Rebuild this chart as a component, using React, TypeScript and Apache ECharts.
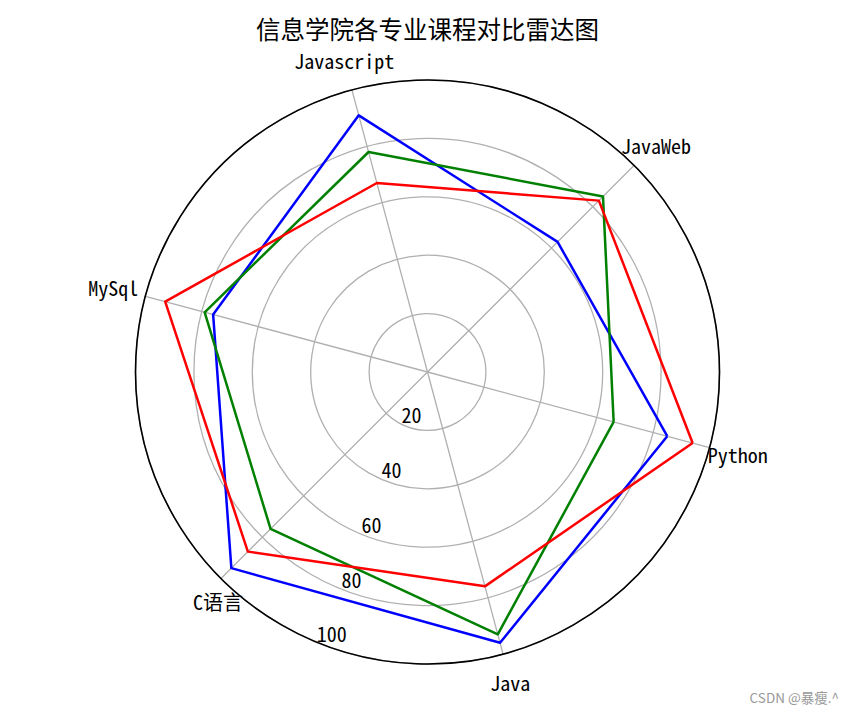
import { useEffect, useRef } from 'react';
import * as echarts from 'echarts';

// courses, counter-clockwise from the first spoke
const courses = ['Python', 'JavaWeb', 'Javascript', 'MySql', 'C语言', 'Java'];
const blueScores = [85, 63, 91, 76, 95, 96];
const greenScores = [66, 85, 78, 79, 76, 93];
const redScores = [94, 83, 67, 93, 87, 76];
const radialTicks = [20, 40, 60, 80, 100];

const CX = 427.5;
const CY = 372;
const R = 292;
const mono = '"Noto Sans Mono CJK SC", "Noto Sans CJK SC", "DejaVu Sans Mono", monospace';
const cjk = '"Noto Sans CJK SC", sans-serif';

// nudges [top, right, bottom, left] so each course name sits centred on its spoke
const namePads = [
  [31, 0, 0, 31],
  [0, 0, 34, 11],
  [0, 33, 52, 0],
  [0, 40, 36, 0],
  [37, 2, 0, 0],
  [51, 0, 0, 32],
];

const labelFont = { fontSize: 20, fontFamily: mono, color: '#000' };

export default function App(): JSX.Element {
  const chartRef = useRef<HTMLDivElement>(null);

  useEffect(() => {
    const myChart = echarts.init(chartRef.current, null, { renderer: 'svg' });
    const option = {
      animation: false,
      backgroundColor: '#fff',
      title: [
        {
          text: '信息学院各专业课程对比雷达图',
          left: 'center',
          top: 11,
          textStyle: { fontSize: 24.5, fontWeight: 'normal', color: '#000', fontFamily: cjk },
        },
        {
          text: 'CSDN @暴瘦.^',
          right: 11,
          bottom: 5,
          textStyle: { fontSize: 13.5, fontWeight: 'normal', color: '#999', fontFamily: cjk },
        },
      ],
      polar: [
        { center: [CX, CY], radius: R },
        { center: [CX, CY], radius: R },
      ],
      angleAxis: [
        {
          polarIndex: 0,
          type: 'value',
          min: 0,
          max: 360,
          startAngle: 250,
          clockwise: false,
          z: 5,
          axisLine: { show: true, lineStyle: { color: '#000', width: 1.6 } },
          axisTick: { show: false },
          axisLabel: { show: false },
          splitLine: { show: false },
        },
        {
          polarIndex: 1,
          type: 'category',
          boundaryGap: false,
          startAngle: -15,
          clockwise: false,
          data: courses.map((c, i) => ({ value: c, textStyle: { padding: namePads[i] } })),
          axisLine: { show: false },
          axisTick: { show: false },
          splitLine: { show: false },
          axisLabel: {
            margin: -34,
            ...labelFont,
            formatter: (v: string) => `{n|${v}}`,
            rich: { n: { ...labelFont } },
          },
        },
      ],
      radiusAxis: [
        {
          polarIndex: 0,
          type: 'value',
          min: 0,
          max: radialTicks[radialTicks.length - 1],
          interval: radialTicks[1] - radialTicks[0],
          axisLine: { show: false },
          axisTick: { show: false },
          splitLine: { show: false },
          axisLabel: {
            margin: 0,
            align: 'center',
            verticalAlign: 'middle',
            padding: [0, 0, 25, 8],
            ...labelFont,
            formatter: (v: number) => (radialTicks.includes(v) ? `{t|${v}}` : ''),
            rich: { t: { ...labelFont } },
          },
        },
        {
          polarIndex: 1,
          type: 'value',
          min: 0,
          max: 100,
          axisLine: { show: false },
          axisTick: { show: false },
          splitLine: { show: false },
          axisLabel: { show: false },
        },
      ],
      radar: {
        center: [CX, CY],
        radius: R,
        startAngle: -15,
        shape: 'circle',
        splitNumber: 5,
        indicator: courses.map((name) => ({ name, min: 0, max: 100 })),
        axisName: { show: false },
        axisLine: { lineStyle: { color: '#b0b0b0', width: 1.3 } },
        splitLine: { lineStyle: { color: '#b0b0b0', width: 1.3 } },
        splitArea: { show: false },
      },
      series: [
        {
          type: 'radar',
          symbol: 'none',
          data: [
            { name: 'blue', value: blueScores, lineStyle: { color: '#0000ff', width: 2.5 }, itemStyle: { color: '#0000ff' } },
            { name: 'green', value: greenScores, lineStyle: { color: '#008000', width: 2.5 }, itemStyle: { color: '#008000' } },
            { name: 'red', value: redScores, lineStyle: { color: '#ff0000', width: 2.5 }, itemStyle: { color: '#ff0000' } },
          ],
        },
      ],
    };
    myChart.setOption(option);
    return () => {
      myChart.dispose();
    };
  }, []);

  return (
    <div
      ref={chartRef}
      style={{ position: 'absolute', left: 0, top: 0, width: 855, height: 714 }}
    ></div>
  );
}
